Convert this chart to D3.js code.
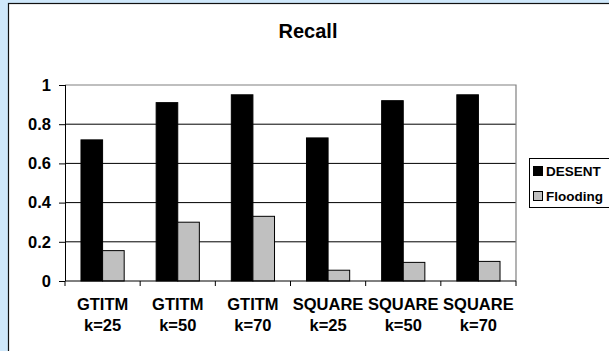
<!DOCTYPE html>
<html>
<head>
<meta charset="utf-8">
<script src="https://cdn.jsdelivr.net/npm/d3@7"></script>
<style>
  html, body { margin: 0; padding: 0; background: #cfe8fb; }
  svg { display: block; }
  text { font-family: Arial, "Liberation Sans", sans-serif; font-weight: bold; fill: #000; }
</style>
</head>
<body>
<svg id="chart" width="609" height="351"></svg>
<script>
// Recall of DESENT vs Flooding per topology and k
const categories = ["GTITM k=25", "GTITM k=50", "GTITM k=70", "SQUARE k=25", "SQUARE k=50", "SQUARE k=70"];
const catTop = ["GTITM", "GTITM", "GTITM", "SQUARE", "SQUARE", "SQUARE"];
const catBottom = ["k=25", "k=50", "k=70", "k=25", "k=50", "k=70"];
const seriesNames = ["DESENT", "Flooding"];
const desent = [0.72, 0.91, 0.95, 0.73, 0.92, 0.95];
const flooding = [0.155, 0.30, 0.33, 0.055, 0.095, 0.10];
const yTicks = [0, 0.2, 0.4, 0.6, 0.8, 1];
const yTickLabels = ["0", "0.2", "0.4", "0.6", "0.8", "1"];
const seriesColors = ["#000000", "#c0c0c0"];

const seriesValues = [desent, flooding];

const svg = d3.select("#chart");

// white chart panel framed on the left and top
svg.append("rect")
  .attr("x", 8.5).attr("y", 3.5)
  .attr("width", 700).attr("height", 400)
  .attr("fill", "#fff")
  .attr("stroke", "#111").attr("stroke-width", 1.2);

const plot = { left: 65, right: 516, top: 85, bottom: 281 };

const x = d3.scaleBand().domain(categories).range([plot.left, plot.right]).padding(0);
const xs = d3.scaleBand().domain(seriesNames).range([0, x.bandwidth()])
  .paddingInner(0).paddingOuter(0.74);
const y = d3.scaleLinear().domain([0, 1]).range([plot.bottom, plot.top]);

// title
svg.append("text")
  .attr("x", 308).attr("y", 38)
  .attr("text-anchor", "middle")
  .style("font-size", "20px")
  .text("Recall");

// gridlines
svg.append("g").selectAll("line")
  .data(yTicks.filter(d => d > 0 && d < 1))
  .join("line")
  .attr("x1", plot.left).attr("x2", plot.right)
  .attr("y1", d => y(d)).attr("y2", d => y(d))
  .attr("stroke", "#000").attr("stroke-width", 1);

// plot area frame (top and right)
svg.append("path")
  .attr("d", `M${plot.left},${y(1)}H${plot.right}V${plot.bottom}`)
  .attr("fill", "none")
  .attr("stroke", "#808080").attr("stroke-width", 1.2);

// bars
const groups = svg.append("g").selectAll("g")
  .data(categories)
  .join("g")
  .attr("transform", d => `translate(${x(d)},0)`);

groups.selectAll("rect")
  .data((d, i) => seriesNames.map((s, j) => ({ s, v: seriesValues[j][i], c: seriesColors[j] })))
  .join("rect")
  .attr("x", d => xs(d.s))
  .attr("width", xs.bandwidth())
  .attr("y", d => y(d.v))
  .attr("height", d => y(0) - y(d.v))
  .attr("fill", d => d.c)
  .attr("stroke", "#000").attr("stroke-width", 1);

// y axis
const yAxis = d3.axisLeft(y)
  .tickValues(yTicks)
  .tickFormat((d, i) => yTickLabels[i])
  .tickSize(6)
  .tickPadding(8);
const gy = svg.append("g")
  .attr("transform", `translate(${plot.left},0)`)
  .call(yAxis);
gy.select(".domain").attr("stroke", "#000").attr("d", `M0.5,${plot.top}V${plot.bottom}`);
gy.selectAll(".tick line").attr("stroke", "#000");
gy.selectAll(".tick text")
  .style("font-size", "16.5px")
  .style("font-family", "Arial, 'Liberation Sans', sans-serif")
  .style("font-weight", "bold")
  .attr("fill", "#000");

// x axis baseline and boundary ticks
const gx = svg.append("g");
gx.append("line")
  .attr("x1", plot.left).attr("x2", plot.right)
  .attr("y1", y(0)).attr("y2", y(0))
  .attr("stroke", "#000");
const boundaries = categories.map(c => x(c)).concat([x.range()[1]]);
gx.selectAll("line.tk")
  .data(boundaries)
  .join("line")
  .attr("class", "tk")
  .attr("x1", d => d).attr("x2", d => d)
  .attr("y1", y(0)).attr("y2", y(0) + 5)
  .attr("stroke", "#000");

// category labels (two lines)
const lbl = gx.selectAll("text.cat")
  .data(categories)
  .join("text")
  .attr("class", "cat")
  .attr("text-anchor", "middle")
  .style("font-size", "16.5px");
lbl.append("tspan")
  .attr("x", d => x(d) + x.bandwidth() / 2)
  .attr("y", 310)
  .text((d, i) => catTop[i]);
lbl.append("tspan")
  .attr("x", d => x(d) + x.bandwidth() / 2)
  .attr("y", 331)
  .text((d, i) => catBottom[i]);

// legend
const legend = svg.append("g");
legend.append("rect")
  .attr("x", 529.5).attr("y", 158.5)
  .attr("width", 120).attr("height", 49)
  .attr("fill", "#fff").attr("stroke", "#000").attr("stroke-width", 1);
const items = legend.selectAll("g.item")
  .data(seriesNames)
  .join("g")
  .attr("class", "item")
  .attr("transform", (d, i) => `translate(533,${171 + i * 25})`);
items.append("rect")
  .attr("x", 0.5).attr("y", -4.5)
  .attr("width", 9).attr("height", 9)
  .attr("fill", (d, i) => seriesColors[i])
  .attr("stroke", "#000");
items.append("text")
  .attr("x", 13).attr("y", 5)
  .style("font-size", "13.5px")
  .text(d => d);
</script>
</body>
</html>
